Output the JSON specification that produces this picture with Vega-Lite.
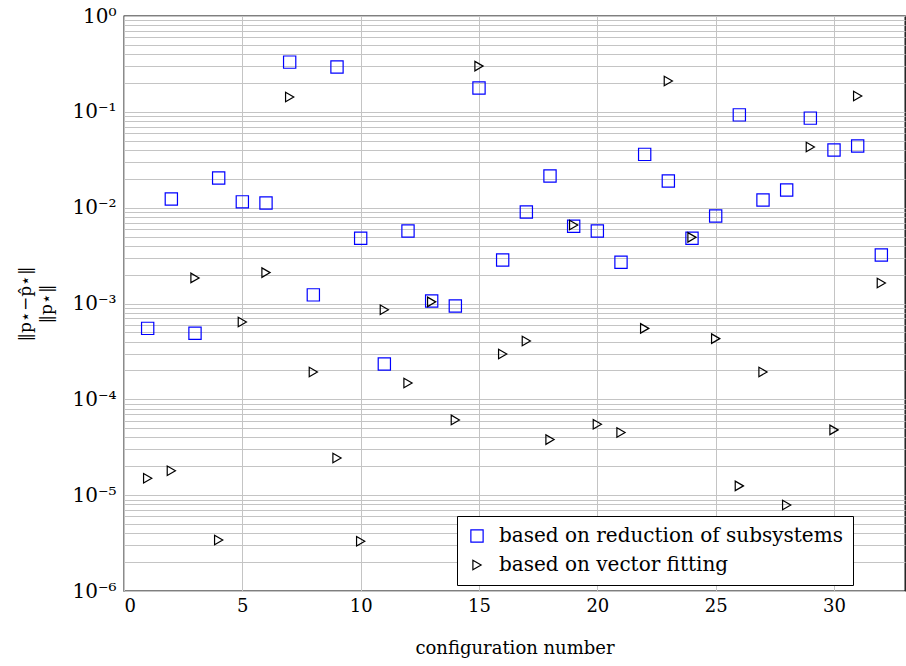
{
  "$schema": "https://vega.github.io/schema/vega-lite/v6.json",
  "autosize": {"type": "none"},
  "width": 781,
  "height": 575,
  "padding": {"left": 124, "top": 16, "right": 1, "bottom": 75},
  "config": {
    "view": {"stroke": "#000000", "strokeWidth": 1.3},
    "font": "DejaVu Serif",
    "axis": {"labelFont": "DejaVu Serif", "titleFont": "DejaVu Serif", "labelColor": "#000", "titleColor": "#000", "titleFontWeight": "normal", "gridColor": "#c4c4c4", "gridWidth": 1, "domain": false, "ticks": false},
    "legend": {"labelFont": "DejaVu Serif"}
  },
  "data": {"values": [
    {"x":1,"m":"based on reduction of subsystems","v":5.5e-4},
    {"x":2,"m":"based on reduction of subsystems","v":1.23e-2},
    {"x":3,"m":"based on reduction of subsystems","v":4.9e-4},
    {"x":4,"m":"based on reduction of subsystems","v":2.04e-2},
    {"x":5,"m":"based on reduction of subsystems","v":1.15e-2},
    {"x":6,"m":"based on reduction of subsystems","v":1.12e-2},
    {"x":7,"m":"based on reduction of subsystems","v":0.33},
    {"x":8,"m":"based on reduction of subsystems","v":1.23e-3},
    {"x":9,"m":"based on reduction of subsystems","v":0.294},
    {"x":10,"m":"based on reduction of subsystems","v":4.8e-3},
    {"x":11,"m":"based on reduction of subsystems","v":2.34e-4},
    {"x":12,"m":"based on reduction of subsystems","v":5.7e-3},
    {"x":13,"m":"based on reduction of subsystems","v":1.06e-3},
    {"x":14,"m":"based on reduction of subsystems","v":9.4e-4},
    {"x":15,"m":"based on reduction of subsystems","v":0.177},
    {"x":16,"m":"based on reduction of subsystems","v":2.84e-3},
    {"x":17,"m":"based on reduction of subsystems","v":9.0e-3},
    {"x":18,"m":"based on reduction of subsystems","v":2.14e-2},
    {"x":19,"m":"based on reduction of subsystems","v":6.4e-3},
    {"x":20,"m":"based on reduction of subsystems","v":5.7e-3},
    {"x":21,"m":"based on reduction of subsystems","v":2.7e-3},
    {"x":22,"m":"based on reduction of subsystems","v":3.6e-2},
    {"x":23,"m":"based on reduction of subsystems","v":1.9e-2},
    {"x":24,"m":"based on reduction of subsystems","v":4.8e-3},
    {"x":25,"m":"based on reduction of subsystems","v":8.2e-3},
    {"x":26,"m":"based on reduction of subsystems","v":9.3e-2},
    {"x":27,"m":"based on reduction of subsystems","v":1.2e-2},
    {"x":28,"m":"based on reduction of subsystems","v":1.53e-2},
    {"x":29,"m":"based on reduction of subsystems","v":8.6e-2},
    {"x":30,"m":"based on reduction of subsystems","v":4.0e-2},
    {"x":31,"m":"based on reduction of subsystems","v":4.4e-2},
    {"x":32,"m":"based on reduction of subsystems","v":3.2e-3},
    {"x":1,"m":"based on vector fitting","v":1.5e-5},
    {"x":2,"m":"based on vector fitting","v":1.8e-5},
    {"x":3,"m":"based on vector fitting","v":1.85e-3},
    {"x":4,"m":"based on vector fitting","v":3.4e-6},
    {"x":5,"m":"based on vector fitting","v":6.4e-4},
    {"x":6,"m":"based on vector fitting","v":2.1e-3},
    {"x":7,"m":"based on vector fitting","v":0.143},
    {"x":8,"m":"based on vector fitting","v":1.93e-4},
    {"x":9,"m":"based on vector fitting","v":2.44e-5},
    {"x":10,"m":"based on vector fitting","v":3.3e-6},
    {"x":11,"m":"based on vector fitting","v":8.6e-4},
    {"x":12,"m":"based on vector fitting","v":1.48e-4},
    {"x":13,"m":"based on vector fitting","v":1.04e-3},
    {"x":14,"m":"based on vector fitting","v":6.1e-5},
    {"x":15,"m":"based on vector fitting","v":0.30},
    {"x":16,"m":"based on vector fitting","v":2.97e-4},
    {"x":17,"m":"based on vector fitting","v":4.06e-4},
    {"x":18,"m":"based on vector fitting","v":3.8e-5},
    {"x":19,"m":"based on vector fitting","v":6.6e-3},
    {"x":20,"m":"based on vector fitting","v":5.5e-5},
    {"x":21,"m":"based on vector fitting","v":4.5e-5},
    {"x":22,"m":"based on vector fitting","v":5.5e-4},
    {"x":23,"m":"based on vector fitting","v":0.21},
    {"x":24,"m":"based on vector fitting","v":4.9e-3},
    {"x":25,"m":"based on vector fitting","v":4.3e-4},
    {"x":26,"m":"based on vector fitting","v":1.25e-5},
    {"x":27,"m":"based on vector fitting","v":1.93e-4},
    {"x":28,"m":"based on vector fitting","v":7.9e-6},
    {"x":29,"m":"based on vector fitting","v":4.3e-2},
    {"x":30,"m":"based on vector fitting","v":4.8e-5},
    {"x":31,"m":"based on vector fitting","v":0.146},
    {"x":32,"m":"based on vector fitting","v":1.64e-3}
  ]},
  "mark": {"type": "point", "filled": false, "strokeWidth": 1.2, "opacity": 1},
  "encoding": {
    "x": {"field": "x", "type": "quantitative",
      "scale": {"domain": [0, 33], "nice": false, "zero": false},
      "axis": {"values": [0,5,10,15,20,25,30], "title": "configuration number", "labelFontSize": 18, "titleFontSize": 18, "labelPadding": 6, "titlePadding": 24, "grid": true}},
    "y": {"field": "v", "type": "quantitative",
      "scale": {"type": "log", "domain": [1e-6, 1], "nice": false},
      "axis": {"values": [1e-6,2e-6,3e-6,4e-6,5e-6,6e-6,7e-6,8e-6,9e-6,1e-5,2e-5,3e-5,4e-5,5e-5,6e-5,7e-5,8e-5,9e-5,1e-4,2e-4,3e-4,4e-4,5e-4,6e-4,7e-4,8e-4,9e-4,1e-3,2e-3,3e-3,4e-3,5e-3,6e-3,7e-3,8e-3,9e-3,1e-2,2e-2,3e-2,4e-2,5e-2,6e-2,7e-2,8e-2,9e-2,1e-1,2e-1,3e-1,4e-1,5e-1,6e-1,7e-1,8e-1,9e-1,1],
        "labelExpr": "abs(log(datum.value)/LN10 - round(log(datum.value)/LN10)) < 1e-6 ? ['10⁰','10⁻¹','10⁻²','10⁻³','10⁻⁴','10⁻⁵','10⁻⁶'][-round(log(datum.value)/LN10)] : ''",
        "labelOverlap": false, "labelFontSize": 20, "labelPadding": 8,
        "title": ["‖p⋆−p̂⋆‖", "‖p⋆‖"], "titleFontSize": 17, "titlePadding": 16, "titleLineHeight": 21, "grid": true}},
    "color": {"field": "m", "type": "nominal",
      "scale": {"domain": ["based on reduction of subsystems", "based on vector fitting"], "range": ["#0000ff", "#000000"]},
      "legend": {"orient": "none", "legendX": 333, "legendY": 500, "title": null,
        "labelFontSize": 20, "labelColor": "#000",
        "strokeColor": "#000", "fillColor": "#ffffff", "padding": 10, "rowPadding": 9,
        "symbolStrokeWidth": 1.2, "labelOffset": 12, "labelLimit": 500}},
    "shape": {"field": "m", "type": "nominal",
      "scale": {"domain": ["based on reduction of subsystems", "based on vector fitting"], "range": ["square", "triangle-right"]}},
    "size": {"field": "m", "type": "nominal", "legend": null,
      "scale": {"domain": ["based on reduction of subsystems", "based on vector fitting"], "range": [150, 90]}}
  }
}
